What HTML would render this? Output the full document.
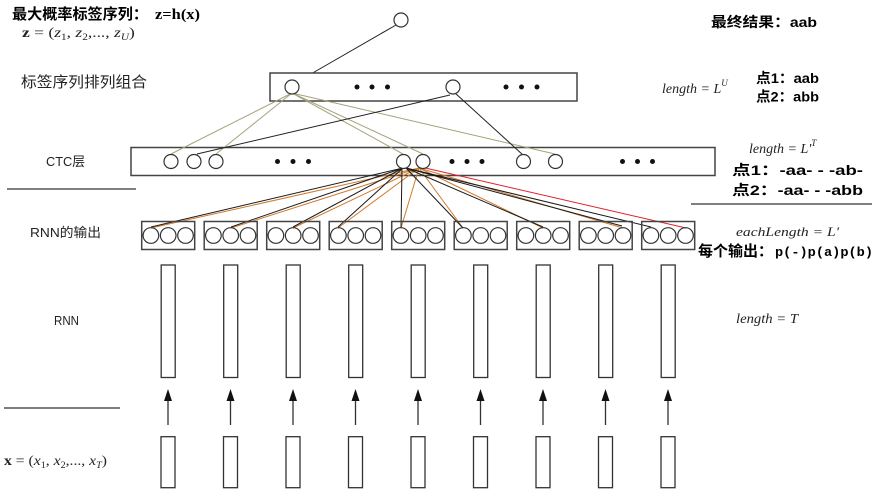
<!DOCTYPE html>
<html><head><meta charset="utf-8"><style>
html,body{margin:0;padding:0;background:#fff;width:884px;height:490px;overflow:hidden}
svg{display:block}
.cn{font-family:"Liberation Sans","Noto Sans CJK SC",sans-serif}
.ser{font-family:"Liberation Serif","Noto Serif CJK SC",serif}
</style></head><body>
<svg width="884" height="490" viewBox="0 0 884 490" xmlns="http://www.w3.org/2000/svg">
<rect width="884" height="490" fill="#fff"/>

<g stroke="#555" stroke-width="1.5">
<line x1="7" y1="189" x2="136" y2="189"/>
<line x1="691" y1="204" x2="872" y2="204"/>
<line x1="4" y1="408" x2="120" y2="408"/>
</g>

<line x1="396" y1="25" x2="297" y2="82" stroke="#222" stroke-width="1"/>
<circle cx="401" cy="20" r="7" fill="#fff" stroke="#333" stroke-width="1.2"/>

<rect x="270" y="73" width="307" height="28" fill="#fff" stroke="#444" stroke-width="1.5"/>
<rect x="131" y="147.5" width="584" height="28" fill="#fff" stroke="#444" stroke-width="1.5"/>

<g stroke="#a6a27a" stroke-width="1">
<line x1="292" y1="93" x2="171" y2="154"/>
<line x1="292" y1="93" x2="216" y2="154"/>
<line x1="292" y1="93" x2="403" y2="154"/>
<line x1="292" y1="93" x2="423" y2="154"/>
<line x1="292" y1="93" x2="555" y2="154"/>
</g>
<g stroke="#222" stroke-width="1">
<line x1="450" y1="95" x2="197" y2="154"/>
<line x1="455" y1="93" x2="523" y2="155"/>
</g>

<g fill="#fff" stroke="#333" stroke-width="1.2">
<circle cx="292" cy="87" r="7"/>
<circle cx="453" cy="87" r="7"/>
</g>
<g fill="#111">
<circle cx="357" cy="87" r="2.5"/><circle cx="372" cy="87" r="2.5"/><circle cx="387.5" cy="87" r="2.5"/>
<circle cx="506" cy="87" r="2.5"/><circle cx="521.5" cy="87" r="2.5"/><circle cx="537" cy="87" r="2.5"/>
</g>

<g stroke="#d07a2a" stroke-width="1">
<line x1="419" y1="168" x2="151" y2="228"/>
<line x1="419" y1="168" x2="231" y2="228"/>
<line x1="419" y1="168" x2="293" y2="228"/>
<line x1="419" y1="168" x2="338" y2="228"/>
<line x1="419" y1="168" x2="401" y2="228"/>
<line x1="419" y1="168" x2="463" y2="228"/>
<line x1="419" y1="168" x2="543" y2="228"/>
<line x1="419" y1="168" x2="623" y2="228"/>
</g>
<g stroke="#1a1a1a" stroke-width="1">
<line x1="403" y1="168" x2="151" y2="227"/>
<line x1="403" y1="168" x2="231" y2="227"/>
<line x1="403" y1="168" x2="293" y2="227"/>
<line x1="403" y1="168" x2="338" y2="227"/>
<line x1="402" y1="168" x2="401" y2="228"/>
<line x1="406" y1="168" x2="463" y2="228"/>
<line x1="406" y1="168" x2="543" y2="227"/>
<line x1="406" y1="168" x2="622" y2="226"/>
<line x1="406" y1="168" x2="651" y2="227"/>
</g>
<line x1="421" y1="167" x2="686" y2="228" stroke="#e0202a" stroke-width="1"/>

<g fill="#fff" stroke="#333" stroke-width="1.2">
<circle cx="171" cy="161.5" r="7"/>
<circle cx="194" cy="161.5" r="7"/>
<circle cx="216" cy="161.5" r="7"/>
<circle cx="403.5" cy="161.5" r="7"/>
<circle cx="423" cy="161.5" r="7"/>
<circle cx="523.5" cy="161.5" r="7"/>
<circle cx="555.5" cy="161.5" r="7"/>
</g>
<g fill="#111">
<circle cx="277.5" cy="161.5" r="2.5"/><circle cx="293" cy="161.5" r="2.5"/><circle cx="308.5" cy="161.5" r="2.5"/>
<circle cx="452" cy="161.5" r="2.5"/><circle cx="467" cy="161.5" r="2.5"/><circle cx="482" cy="161.5" r="2.5"/>
<circle cx="622.5" cy="161.5" r="2.5"/><circle cx="637.5" cy="161.5" r="2.5"/><circle cx="652.5" cy="161.5" r="2.5"/>
</g>

<g stroke="#444" stroke-width="1.5" fill="none">
<rect x="141.7" y="221.5" width="53" height="28"/>
<rect x="204.2" y="221.5" width="53" height="28"/>
<rect x="266.7" y="221.5" width="53" height="28"/>
<rect x="329.2" y="221.5" width="53" height="28"/>
<rect x="391.7" y="221.5" width="53" height="28"/>
<rect x="454.2" y="221.5" width="53" height="28"/>
<rect x="516.7" y="221.5" width="53" height="28"/>
<rect x="579.2" y="221.5" width="53" height="28"/>
<rect x="641.7" y="221.5" width="53" height="28"/>
</g>
<g fill="none" stroke="#333" stroke-width="1.2">
<circle cx="150.9" cy="235.5" r="7.8"/><circle cx="168.2" cy="235.5" r="7.8"/><circle cx="185.5" cy="235.5" r="7.8"/>
<circle cx="213.4" cy="235.5" r="7.8"/><circle cx="230.7" cy="235.5" r="7.8"/><circle cx="248" cy="235.5" r="7.8"/>
<circle cx="275.9" cy="235.5" r="7.8"/><circle cx="293.2" cy="235.5" r="7.8"/><circle cx="310.5" cy="235.5" r="7.8"/>
<circle cx="338.4" cy="235.5" r="7.8"/><circle cx="355.7" cy="235.5" r="7.8"/><circle cx="373" cy="235.5" r="7.8"/>
<circle cx="400.9" cy="235.5" r="7.8"/><circle cx="418.2" cy="235.5" r="7.8"/><circle cx="435.5" cy="235.5" r="7.8"/>
<circle cx="463.4" cy="235.5" r="7.8"/><circle cx="480.7" cy="235.5" r="7.8"/><circle cx="498" cy="235.5" r="7.8"/>
<circle cx="525.9" cy="235.5" r="7.8"/><circle cx="543.2" cy="235.5" r="7.8"/><circle cx="560.5" cy="235.5" r="7.8"/>
<circle cx="588.4" cy="235.5" r="7.8"/><circle cx="605.7" cy="235.5" r="7.8"/><circle cx="623" cy="235.5" r="7.8"/>
<circle cx="650.9" cy="235.5" r="7.8"/><circle cx="668.2" cy="235.5" r="7.8"/><circle cx="685.5" cy="235.5" r="7.8"/>
</g>

<g stroke="#333" stroke-width="1.3" fill="#fff">
<rect x="161.2" y="265" width="14" height="112.5"/>
<rect x="223.7" y="265" width="14" height="112.5"/>
<rect x="286.2" y="265" width="14" height="112.5"/>
<rect x="348.7" y="265" width="14" height="112.5"/>
<rect x="411.2" y="265" width="14" height="112.5"/>
<rect x="473.7" y="265" width="14" height="112.5"/>
<rect x="536.2" y="265" width="14" height="112.5"/>
<rect x="598.7" y="265" width="14" height="112.5"/>
<rect x="661.2" y="265" width="14" height="112.5"/>
<rect x="161" y="436.7" width="14" height="51"/>
<rect x="223.5" y="436.7" width="14" height="51"/>
<rect x="286" y="436.7" width="14" height="51"/>
<rect x="348.5" y="436.7" width="14" height="51"/>
<rect x="411" y="436.7" width="14" height="51"/>
<rect x="473.5" y="436.7" width="14" height="51"/>
<rect x="536" y="436.7" width="14" height="51"/>
<rect x="598.5" y="436.7" width="14" height="51"/>
<rect x="661" y="436.7" width="14" height="51"/>
</g>

<g stroke="#333" stroke-width="1.3">
<line x1="168" y1="425" x2="168" y2="399"/>
<line x1="230.5" y1="425" x2="230.5" y2="399"/>
<line x1="293" y1="425" x2="293" y2="399"/>
<line x1="355.5" y1="425" x2="355.5" y2="399"/>
<line x1="418" y1="425" x2="418" y2="399"/>
<line x1="480.5" y1="425" x2="480.5" y2="399"/>
<line x1="543" y1="425" x2="543" y2="399"/>
<line x1="605.5" y1="425" x2="605.5" y2="399"/>
<line x1="668" y1="425" x2="668" y2="399"/>
</g>
<g fill="#111">
<polygon points="164,401 172,401 168,389"/>
<polygon points="226.5,401 234.5,401 230.5,389"/>
<polygon points="289,401 297,401 293,389"/>
<polygon points="351.5,401 359.5,401 355.5,389"/>
<polygon points="414,401 422,401 418,389"/>
<polygon points="476.5,401 484.5,401 480.5,389"/>
<polygon points="539,401 547,401 543,389"/>
<polygon points="601.5,401 609.5,401 605.5,389"/>
<polygon points="664,401 672,401 668,389"/>
</g>

<text x="12" y="19" class="cn" font-size="15" font-weight="bold" fill="#000" textLength="136" lengthAdjust="spacingAndGlyphs">最大概率标签序列：</text>
<text x="155" y="19" font-family="Liberation Serif, serif" font-size="15" font-weight="bold" fill="#000" textLength="45" lengthAdjust="spacingAndGlyphs">z=h(x)</text>

<g transform="translate(22,37) scale(1.25,1)">
<text x="0" y="0" class="ser" font-size="14" fill="#222"><tspan font-weight="bold">z</tspan> = (<tspan font-style="italic">z</tspan><tspan font-size="9" dy="3">1</tspan><tspan dy="-3">, </tspan><tspan font-style="italic">z</tspan><tspan font-size="9" dy="3">2</tspan><tspan dy="-3">,..., </tspan><tspan font-style="italic">z</tspan><tspan font-size="9" dy="3" font-style="italic">U</tspan><tspan dy="-3">)</tspan></text>
</g>

<text x="21" y="87" class="cn" font-size="15" fill="#222" textLength="126" lengthAdjust="spacingAndGlyphs">标签序列排列组合</text>
<text x="46" y="166" class="cn" font-size="13" fill="#222" textLength="39" lengthAdjust="spacingAndGlyphs">CTC层</text>
<text x="30" y="237" class="cn" font-size="13" fill="#222" textLength="71" lengthAdjust="spacingAndGlyphs">RNN的输出</text>
<text x="54" y="325" class="cn" font-size="13" fill="#222" textLength="25" lengthAdjust="spacingAndGlyphs">RNN</text>

<g transform="translate(4,465) scale(1.12,1)">
<text x="0" y="0" class="ser" font-size="14" fill="#222"><tspan font-weight="bold">x</tspan> = (<tspan font-style="italic">x</tspan><tspan font-size="9" dy="3">1</tspan><tspan dy="-3">, </tspan><tspan font-style="italic">x</tspan><tspan font-size="9" dy="3">2</tspan><tspan dy="-3">,..., </tspan><tspan font-style="italic">x</tspan><tspan font-size="9" dy="3" font-style="italic">T</tspan><tspan dy="-3">)</tspan></text>
</g>

<text x="711" y="27" class="cn" font-size="14" font-weight="bold" fill="#000" textLength="106" lengthAdjust="spacingAndGlyphs">最终结果：aab</text>

<text x="662" y="93" class="ser" font-size="14" font-style="italic" fill="#222">length = L<tspan font-size="9" dy="-7">U</tspan></text>
<text x="756" y="83" class="cn" font-size="14" font-weight="bold" fill="#000" textLength="63" lengthAdjust="spacingAndGlyphs">点1：aab</text>
<text x="756" y="101.5" class="cn" font-size="14" font-weight="bold" fill="#000" textLength="63" lengthAdjust="spacingAndGlyphs">点2：abb</text>

<text x="749" y="153" class="ser" font-size="14" font-style="italic" fill="#222">length = L'<tspan font-size="9" dy="-7">T</tspan></text>
<text x="732" y="175" class="cn" font-size="14" font-weight="bold" fill="#000" textLength="131" lengthAdjust="spacingAndGlyphs">点1：-aa- - -ab-</text>
<text x="732" y="195" class="cn" font-size="14" font-weight="bold" fill="#000" textLength="131" lengthAdjust="spacingAndGlyphs">点2：-aa- - -abb</text>

<text x="736" y="236" class="ser" font-size="13" font-style="italic" fill="#222" textLength="103" lengthAdjust="spacingAndGlyphs">eachLength = L'</text>
<text x="698" y="256" class="cn" font-size="15" font-weight="bold" fill="#000" textLength="75" lengthAdjust="spacingAndGlyphs">每个输出：</text>
<text x="775" y="256" font-family="Liberation Mono, monospace" font-size="13" font-weight="bold" fill="#000" textLength="98" lengthAdjust="spacingAndGlyphs">p(-)p(a)p(b)</text>

<text x="736" y="323" class="ser" font-size="14" font-style="italic" fill="#222" textLength="62" lengthAdjust="spacingAndGlyphs">length = T</text>
</svg>
</body></html>
